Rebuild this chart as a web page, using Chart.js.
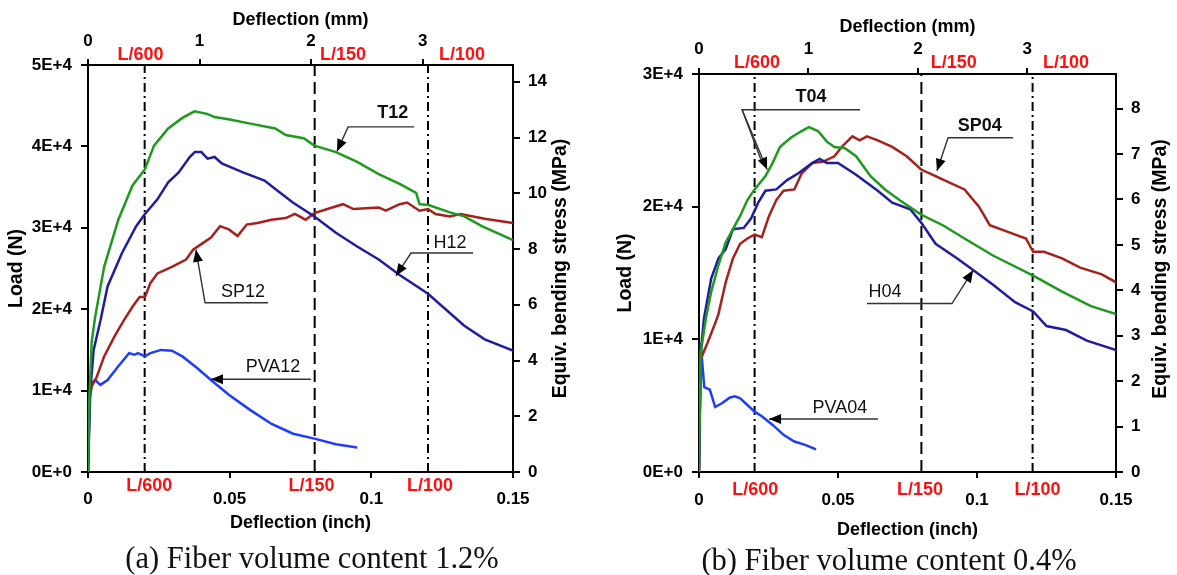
<!DOCTYPE html>
<html><head><meta charset="utf-8">
<script src="https://cdn.jsdelivr.net/npm/chart.js@4.4.1/dist/chart.umd.min.js"></script>
<style>
html,body{margin:0;padding:0;background:#fff}
body{width:1177px;height:575px;overflow:hidden;position:relative}
canvas{position:absolute;top:0}
.cap{position:absolute;font-family:"Liberation Serif","Times New Roman",serif;font-size:30.5px;color:#111;transform:translateX(-50%);white-space:nowrap;line-height:34px}
</style></head><body>
<canvas id="ca" width="590" height="545" style="left:0px"></canvas>
<canvas id="cb" width="577" height="545" style="left:600px"></canvas>
<div class="cap" style="left:312px;top:541px">(a) Fiber volume content 1.2%</div>
<div class="cap" style="left:889px;top:543px">(b) Fiber volume content 0.4%</div>
<script>
// ---------- DATA (deflection in inch, load in N) ----------
const limitX = [0.02, 0.08, 0.12];
const limitNames = ['L/600', 'L/150', 'L/100'];
const xTicksInch = [0, 0.05, 0.1, 0.15];
const xTicksMm = [0, 1, 2, 3];

// Panel (a) fiber volume 1.2%
const a_T12_x = [0,0.0005,0.0013,0.0025,0.0057,0.0107,0.0157,0.0201,0.0233,0.0283,0.0333,0.0376,0.042,0.0447,0.05,0.0573,0.0661,0.0698,0.0761,0.0799,0.0875,0.095,0.1026,0.11,0.1158,0.117,0.1202,0.1277,0.1328,0.139,0.15];
const a_T12_y = [0,9000,16000,19000,25200,31000,35200,37200,40100,42200,43500,44300,44000,43600,43300,42800,42200,41400,41000,40100,39300,38100,36600,35400,34300,32900,32800,31900,31400,30200,28500];
const a_H12_x = [0,0.0008,0.002,0.0044,0.0069,0.012,0.017,0.0201,0.0245,0.0283,0.032,0.0359,0.0377,0.04,0.0422,0.0447,0.0472,0.0547,0.0623,0.066,0.0723,0.0799,0.0875,0.095,0.1026,0.11,0.12,0.1327,0.14,0.15];
const a_H12_y = [0,10000,15000,18600,22800,26900,30200,31700,33500,35600,36800,38700,39300,39300,38500,38700,37900,36800,35800,34800,33100,31400,29400,27700,26100,24200,21900,18000,16300,14900];
const a_SP12_x = [0,0.0005,0.0013,0.0031,0.0057,0.0094,0.0126,0.0157,0.0182,0.0201,0.022,0.0245,0.0296,0.0346,0.0371,0.0396,0.0434,0.0466,0.0497,0.0528,0.056,0.0598,0.0648,0.0698,0.073,0.0768,0.0799,0.0862,0.09,0.0937,0.1026,0.1051,0.11,0.1126,0.117,0.12,0.1227,0.1277,0.1315,0.14,0.15];
const a_SP12_y = [0,8800,10500,11700,14200,16700,18600,20300,21500,21500,23200,24400,25200,26100,27300,27900,28800,30200,29800,29000,30400,30600,31000,31200,31700,31000,31800,32500,32900,32300,32500,32100,32900,33100,32100,32300,31700,31400,31700,31100,30600];
const a_PVA12_x = [0,0.0006,0.0013,0.0025,0.0044,0.0069,0.0107,0.0145,0.0164,0.0176,0.0201,0.022,0.0258,0.0296,0.0333,0.0384,0.0434,0.0497,0.0573,0.0648,0.0724,0.0799,0.0875,0.095];
const a_PVA12_y = [0,9700,10900,11300,10700,11300,13000,14600,14400,14600,14200,14600,15000,14900,14200,12800,11300,9500,7600,5900,4700,4100,3400,3000];

// Panel (b) fiber volume 0.4%
const b_T04_x = [0,0.0006,0.0025,0.0044,0.007,0.0096,0.0122,0.0148,0.0174,0.02,0.0239,0.0265,0.0291,0.033,0.0369,0.0395,0.0428,0.046,0.0487,0.0525,0.0565,0.0617,0.0669,0.0721,0.0799,0.0877,0.0955,0.1059,0.1202,0.1306,0.141,0.15];
const b_T04_y = [0,9000,11600,13600,15600,17300,18300,19300,20500,21300,22300,23300,24500,25200,25700,26000,25700,24900,24500,24400,23800,22300,21300,20500,19400,18600,17600,16300,14800,13600,12500,11900];
const b_H04_x = [0,0.0006,0.0018,0.0044,0.007,0.0096,0.0122,0.0161,0.0187,0.0213,0.0239,0.0278,0.0317,0.0356,0.0408,0.0434,0.046,0.05,0.0565,0.0643,0.0695,0.076,0.0799,0.0851,0.0929,0.0981,0.1059,0.1137,0.1202,0.125,0.132,0.1395,0.15];
const b_H04_y = [0,9000,11600,14600,16100,16800,18300,18400,19100,20300,21200,21300,22000,22500,23300,23600,23300,23300,22400,21200,20300,19800,18800,17200,16100,15300,14100,12800,12100,11000,10700,9900,9200];
const b_SP04_x = [0,0.0006,0.003,0.0058,0.007,0.0096,0.0122,0.0148,0.0174,0.02,0.0226,0.0252,0.0278,0.0304,0.0343,0.0369,0.0408,0.0447,0.0487,0.0513,0.0552,0.0578,0.0604,0.0643,0.0695,0.0747,0.0799,0.0851,0.0903,0.0955,0.1007,0.1046,0.1111,0.1176,0.1202,0.1241,0.1306,0.1371,0.1449,0.15];
const b_SP04_y = [0,8500,9700,11200,11900,14300,16100,17200,17600,17900,17700,19300,20500,21200,21300,22500,23300,23400,23800,24500,25300,25000,25300,25000,24500,23800,22800,22300,21800,21300,20000,18600,18100,17600,16600,16600,16100,15400,14900,14300];
const b_PVA04_x = [0,0.0006,0.0013,0.0019,0.0039,0.0058,0.0084,0.011,0.0129,0.0148,0.0174,0.02,0.0226,0.0265,0.0304,0.0343,0.0382,0.0421];
const b_PVA04_y = [0,9700,7900,6400,6200,4900,5200,5600,5700,5550,5050,4550,4200,3550,2800,2300,2050,1700];

// ---------- helpers ----------
const FONT = "'Liberation Sans', Arial, sans-serif";
Chart.defaults.font.family = FONT;
Chart.defaults.color = '#000';
const MPA_PER_N = 1/3424;
const zip = (xs, ys) => xs.map((x, i) => ({x, y: ys[i]}));
const COL = {green:'#1e9a1e', red:'#a8201c', navy:'#1e1e9e', blue:'#1f3cff'};
const dashes = [[9,4,2,4],[12,6],[9,4,2,4]];

function curve(xs, ys, color){
  return {data: zip(xs, ys), borderColor: color, borderWidth: 2.5, pointRadius: 0, tension: 0, fill: false};
}
function limitSets(ymax){
  return limitX.map((v, i) => ({data: [{x: v, y: 0}, {x: v, y: ymax}], borderColor: '#000', borderWidth: 2,
    borderDash: dashes[i], pointRadius: 0}));
}

const annotPlugin = {
  id: 'annot',
  afterDatasetsDraw(chart, args, opts){
    const {ctx} = chart, x = chart.scales.x, y = chart.scales.y;
    const P = p => [x.getPixelForValue(p[0]), y.getPixelForValue(p[1])];
    ctx.save();
    (opts.items || []).forEach(a => {
      a.lines.forEach(line => {
        const pts = line.pts.map(P);
        ctx.strokeStyle = '#333'; ctx.lineWidth = 1.4; ctx.setLineDash([]);
        ctx.beginPath();
        pts.forEach((p, i) => i ? ctx.lineTo(p[0], p[1]) : ctx.moveTo(p[0], p[1]));
        ctx.stroke();
        if (line.arrow){
          const [x1, y1] = pts[pts.length-2], [x2, y2] = pts[pts.length-1];
          const ang = Math.atan2(y2-y1, x2-x1), L = 12, W = 5;
          ctx.fillStyle = '#000';
          ctx.beginPath();
          ctx.moveTo(x2, y2);
          ctx.lineTo(x2 - L*Math.cos(ang) + W*Math.sin(ang), y2 - L*Math.sin(ang) - W*Math.cos(ang));
          ctx.lineTo(x2 - L*Math.cos(ang) - W*Math.sin(ang), y2 - L*Math.sin(ang) + W*Math.cos(ang));
          ctx.closePath(); ctx.fill();
        }
      });
      ctx.fillStyle = '#111';
      ctx.font = (a.bold ? 'bold ' : '') + '18px ' + FONT;
      ctx.textAlign = 'center'; ctx.textBaseline = 'middle';
      const t = P([a.tx, a.ty]);
      ctx.fillText(a.text, t[0], t[1]);
    });
    ctx.restore();
  },
  afterDraw(chart, args, opts){
    const {ctx, chartArea} = chart, x = chart.scales.x;
    ctx.save();
    ctx.fillStyle = '#ff1010';
    ctx.font = 'bold 18px ' + FONT;
    ctx.textAlign = 'center'; ctx.textBaseline = 'middle';
    limitNames.forEach((n, i) => {
      ctx.fillText(n, x.getPixelForValue(opts.topPos[i]), chartArea.top - opts.topGap);
      ctx.fillText(n, x.getPixelForValue(opts.botPos[i]), chartArea.bottom + opts.botGap);
    });
    // right axis title, reading bottom-to-top
    ctx.fillStyle = '#000';
    ctx.font = 'bold 19.5px ' + FONT;
    ctx.translate(opts.rtX, (chartArea.top + chartArea.bottom)/2 + opts.rtDy);
    ctx.rotate(-Math.PI/2);
    ctx.fillText('Equiv. bending stress (MPa)', 0, 0);
    ctx.restore();
  }
};

function makeChart(id, cfg){
  const tickFont = {size: 17, weight: 'bold'};
  const titleFont = {size: 18, weight: 'bold'};
  const yTitleFont = {size: 19.5, weight: 'bold'};
  const grid = (len) => ({drawOnChartArea: false, drawTicks: true, tickLength: len, color: '#000', lineWidth: 2});
  const border = {display: true, color: '#000', width: 2};
  return new Chart(document.getElementById(id), {
    type: 'line',
    data: {datasets: cfg.datasets},
    plugins: [annotPlugin],
    options: {
      responsive: false, animation: false, devicePixelRatio: 1,
      layout: {padding: 0},
      plugins: {legend: {display: false}, tooltip: {enabled: false},
        annot: {items: cfg.annots, topPos: cfg.topPos, botPos: cfg.botPos, topGap: cfg.topGap, botGap: cfg.botGap, rtX: cfg.rtX, rtDy: cfg.rtDy}},
      scales: {
        x: {type: 'linear', position: 'bottom', min: 0, max: 0.15,
          afterBuildTicks: s => { s.ticks = xTicksInch.map(v => ({value: v})); },
          afterFit: s => { s.height = cfg.H - cfg.area.bottom; },
          ticks: {font: tickFont, padding: cfg.botPad, maxRotation: 0, autoSkip: false, callback: v => String(+v.toFixed(2))},
          grid: grid(6), border,
          title: {display: true, text: 'Deflection (inch)', font: titleFont, padding: {top: 0, bottom: cfg.botTitlePad}}},
        x2: {type: 'linear', position: 'top', min: 0, max: 0.15*25.4,
          afterBuildTicks: s => { s.ticks = xTicksMm.map(v => ({value: v})); },
          afterFit: s => { s.height = cfg.area.top; },
          ticks: {font: tickFont, padding: cfg.topPad, maxRotation: 0, autoSkip: false, callback: v => String(v)},
          grid: grid(6), border,
          title: {display: true, text: 'Deflection (mm)', font: titleFont, padding: {top: cfg.topTitlePad, bottom: 0}}},
        y: {type: 'linear', position: 'left', min: 0, max: cfg.ymax,
          afterBuildTicks: s => { s.ticks = cfg.yTicks.map(v => ({value: v})); },
          afterFit: s => { s.width = cfg.area.left; },
          ticks: {font: tickFont, padding: 9, callback: v => v === 0 ? '0E+0' : (v/1e4) + 'E+4'},
          grid: grid(7), border,
          title: {display: true, text: 'Load (N)', font: yTitleFont, padding: {top: cfg.leftTitlePad, bottom: 0}}},
        y2: {type: 'linear', position: 'right', min: 0, max: cfg.ymax*MPA_PER_N,
          afterBuildTicks: s => { s.ticks = cfg.y2Ticks.map(v => ({value: v})); },
          afterFit: s => { s.width = cfg.W - cfg.area.right; },
          ticks: {font: tickFont, padding: 8, callback: v => String(v)},
          grid: grid(7), border}
      }
    }
  });
}

// Panel (a)
makeChart('ca', {
  W: 590, H: 545, area: {left: 88, right: 513, top: 65, bottom: 472},
  ymax: 50000, yTicks: [0,10000,20000,30000,40000,50000], y2Ticks: [0,2,4,6,8,10,12,14],
  botPad: 11, topPad: 7, botTitlePad: 11, topTitlePad: 9, leftTitlePad: 5,
  topPos: [0.0185, 0.090, 0.132], botPos: [0.0216, 0.0789, 0.1207], topGap: 10, botGap: 14,
  rtX: 561, rtDy: 0,
  datasets: [
    curve(a_T12_x, a_T12_y, COL.green),
    curve(a_H12_x, a_H12_y, COL.navy),
    curve(a_SP12_x, a_SP12_y, COL.red),
    curve(a_PVA12_x, a_PVA12_y, COL.blue),
    ...limitSets(50000)
  ],
  annots: [
    {text: 'T12', tx: 0.1076, ty: 44100, bold: true, lines: [{pts: [[0.1151, 42400], [0.0918, 42400], [0.0879, 39400]], arrow: true}]},
    {text: 'SP12', tx: 0.0547, ty: 22100, lines: [{pts: [[0.0635, 20800], [0.0413, 20800], [0.0381, 27300]], arrow: true}]},
    {text: 'H12', tx: 0.1278, ty: 28100, lines: [{pts: [[0.1359, 26900], [0.114, 26900], [0.1087, 24100]], arrow: true}]},
    {text: 'PVA12', tx: 0.0653, ty: 12900, lines: [{pts: [[0.0787, 11400], [0.0434, 11400]], arrow: true}]}
  ]
});

// Panel (b)
makeChart('cb', {
  W: 577, H: 545, area: {left: 99, right: 516, top: 74, bottom: 472},
  ymax: 30000, yTicks: [0,10000,20000,30000], y2Ticks: [0,1,2,3,4,5,6,7,8],
  botPad: 12, topPad: 8, botTitlePad: 4, topTitlePad: 16, leftTitlePad: 14,
  topPos: [0.0209, 0.0916, 0.132], botPos: [0.0202, 0.0795, 0.1218], topGap: 11, botGap: 18,
  rtX: 561, rtDy: -4,
  datasets: [
    curve(b_T04_x, b_T04_y, COL.green),
    curve(b_H04_x, b_H04_y, COL.navy),
    curve(b_SP04_x, b_SP04_y, COL.red),
    curve(b_PVA04_x, b_PVA04_y, COL.blue),
    ...limitSets(30000)
  ],
  annots: [
    {text: 'T04', tx: 0.0403, ty: 28300, bold: true, lines: [
      {pts: [[0.0579, 27300], [0.0155, 27300], [0.0245, 22800]], arrow: true},
      {pts: [[0.0155, 27300], [0.0222, 23600]], arrow: false}]},
    {text: 'SP04', tx: 0.101, ty: 26100, bold: true, lines: [{pts: [[0.113, 25200], [0.0896, 25200], [0.0856, 22700]], arrow: true}]},
    {text: 'H04', tx: 0.0669, ty: 13600, lines: [{pts: [[0.0604, 12700], [0.091, 12700], [0.0986, 15200]], arrow: true}]},
    {text: 'PVA04', tx: 0.0507, ty: 4800, lines: [{pts: [[0.0644, 4000], [0.0252, 4000]], arrow: true}]}
  ]
});
</script>
</body></html>
